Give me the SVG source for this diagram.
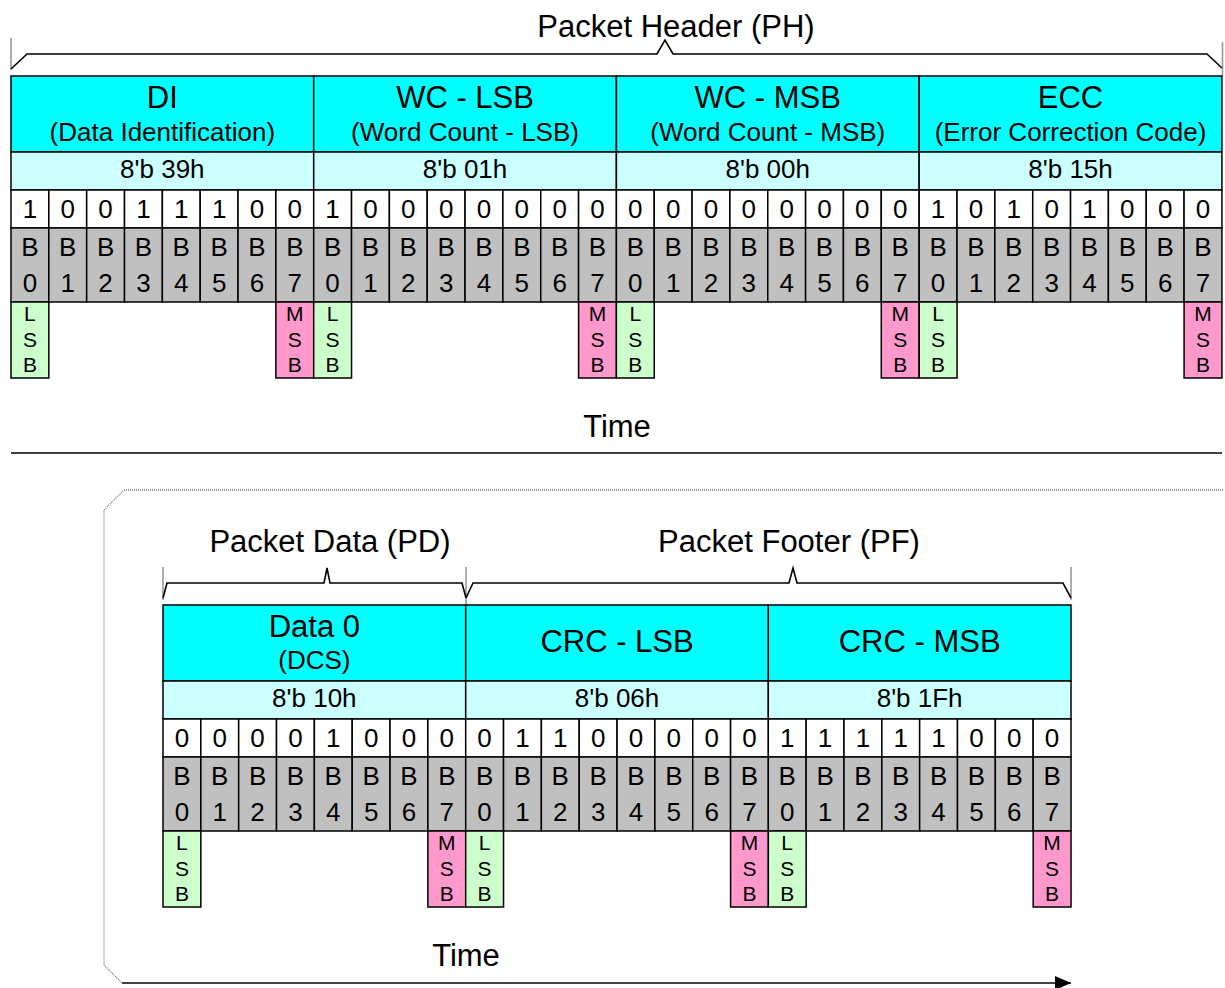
<svg xmlns="http://www.w3.org/2000/svg" width="1225" height="988" viewBox="0 0 1225 988">
<style>
rect{stroke:#000;stroke-width:1.5}
.hdr{fill:#00FFFF}
.hex{fill:#CCFFFF}
.bit{fill:#FFFFFF}
.bn{fill:#C0C0C0}
.lsb{fill:#CCFFCC}
.msb{fill:#FF99CC}
text{font-family:"Liberation Sans",Arial,sans-serif;text-anchor:middle;fill:#000}
.t31{font-size:31px}
.t26{font-size:26px}
.t19{font-size:21px}
.br{fill:none;stroke:#000;stroke-width:1.6}
.gv{fill:none;stroke:#999;stroke-width:1.6}
.dot{fill:none;stroke:#777;stroke-width:1.3;stroke-dasharray:1 1}
</style>
<defs>
<marker id="ah" viewBox="0 0 16 14" refX="16" refY="7" markerWidth="16" markerHeight="14" markerUnits="userSpaceOnUse" orient="auto">
<path d="M0,0 L16,7 L0,14 Z" fill="#000"/>
</marker>
</defs>

<g id="labels">
<text class="t31" x="676" y="37">Packet Header (PH)</text>
<text class="t31" x="617" y="437">Time</text>
<text class="t31" x="330" y="552">Packet Data (PD)</text>
<text class="t31" x="789" y="552">Packet Footer (PF)</text>
<text class="t31" x="466" y="966">Time</text>
</g>

<g id="connectors">
<line class="gv" x1="11" y1="38" x2="11" y2="70"/>
<line class="gv" x1="1222.5" y1="42" x2="1222.5" y2="76"/>
<path class="br" d="M11,69 L27,54 L657,54 L665,40 L673,54 L1207,54 L1222,68"/>
<line x1="11" y1="453" x2="1222" y2="453" stroke="#000" stroke-width="1.6"/>
<path class="dot" d="M1223,490 L124,490 L104,510 L104,965 L122,983"/>
<line x1="122" y1="983" x2="1071" y2="983" stroke="#000" stroke-width="1.6" marker-end="url(#ah)"/>
<line class="gv" x1="163" y1="567" x2="163" y2="600"/>
<line class="gv" x1="466" y1="567" x2="466" y2="605"/>
<line class="gv" x1="1071" y1="567" x2="1071" y2="600"/>
<path class="br" d="M163,598 L167,583 L324,583 L327,568 L330,583 L462,583 L466,598"/>
<path class="br" d="M466,598 L473,583 L789,583 L793,568 L797,583 L1063,583 L1071,598"/>
</g>

<g id="byte-di" transform="translate(11,76)">
<rect class="hdr" width="302.7" height="76"/>
<text class="t31" x="151.35" y="32">DI</text>
<text class="t26" x="151.35" y="65">(Data Identification)</text>
<rect class="hex" y="76" width="302.7" height="38"/>
<text class="t26" x="151.35" y="102">8'b 39h</text>
<rect class="bit" x="0" y="114" width="37.84" height="38"/><rect class="bit" x="37.84" y="114" width="37.84" height="38"/><rect class="bit" x="75.68" y="114" width="37.84" height="38"/><rect class="bit" x="113.52" y="114" width="37.84" height="38"/><rect class="bit" x="151.36" y="114" width="37.84" height="38"/><rect class="bit" x="189.2" y="114" width="37.84" height="38"/><rect class="bit" x="227.04" y="114" width="37.84" height="38"/><rect class="bit" x="264.88" y="114" width="37.84" height="38"/>
<text class="t26" x="18.92" y="142">1</text><text class="t26" x="56.76" y="142">0</text><text class="t26" x="94.6" y="142">0</text><text class="t26" x="132.44" y="142">1</text><text class="t26" x="170.28" y="142">1</text><text class="t26" x="208.12" y="142">1</text><text class="t26" x="245.96" y="142">0</text><text class="t26" x="283.8" y="142">0</text>
<rect class="bn" x="0" y="152" width="37.84" height="74"/><rect class="bn" x="37.84" y="152" width="37.84" height="74"/><rect class="bn" x="75.68" y="152" width="37.84" height="74"/><rect class="bn" x="113.52" y="152" width="37.84" height="74"/><rect class="bn" x="151.36" y="152" width="37.84" height="74"/><rect class="bn" x="189.2" y="152" width="37.84" height="74"/><rect class="bn" x="227.04" y="152" width="37.84" height="74"/><rect class="bn" x="264.88" y="152" width="37.84" height="74"/>
<text class="t26" x="18.92" y="180">B</text><text class="t26" x="56.76" y="180">B</text><text class="t26" x="94.6" y="180">B</text><text class="t26" x="132.44" y="180">B</text><text class="t26" x="170.28" y="180">B</text><text class="t26" x="208.12" y="180">B</text><text class="t26" x="245.96" y="180">B</text><text class="t26" x="283.8" y="180">B</text>
<text class="t26" x="18.92" y="216">0</text><text class="t26" x="56.76" y="216">1</text><text class="t26" x="94.6" y="216">2</text><text class="t26" x="132.44" y="216">3</text><text class="t26" x="170.28" y="216">4</text><text class="t26" x="208.12" y="216">5</text><text class="t26" x="245.96" y="216">6</text><text class="t26" x="283.8" y="216">7</text>
<rect class="lsb" x="0" y="226" width="37.84" height="76"/>
<text class="t19" x="18.92" y="245">L</text><text class="t19" x="18.92" y="271">S</text><text class="t19" x="18.92" y="296">B</text>
<rect class="msb" x="264.88" y="226" width="37.84" height="76"/>
<text class="t19" x="283.8" y="245">M</text><text class="t19" x="283.8" y="271">S</text><text class="t19" x="283.8" y="296">B</text>
</g>

<g id="byte-wc-lsb" transform="translate(313.7,76)">
<rect class="hdr" width="302.7" height="76"/>
<text class="t31" x="151.35" y="32">WC - LSB</text>
<text class="t26" x="151.35" y="65">(Word Count - LSB)</text>
<rect class="hex" y="76" width="302.7" height="38"/>
<text class="t26" x="151.35" y="102">8'b 01h</text>
<rect class="bit" x="0" y="114" width="37.84" height="38"/><rect class="bit" x="37.84" y="114" width="37.84" height="38"/><rect class="bit" x="75.68" y="114" width="37.84" height="38"/><rect class="bit" x="113.52" y="114" width="37.84" height="38"/><rect class="bit" x="151.36" y="114" width="37.84" height="38"/><rect class="bit" x="189.2" y="114" width="37.84" height="38"/><rect class="bit" x="227.04" y="114" width="37.84" height="38"/><rect class="bit" x="264.88" y="114" width="37.84" height="38"/>
<text class="t26" x="18.92" y="142">1</text><text class="t26" x="56.76" y="142">0</text><text class="t26" x="94.6" y="142">0</text><text class="t26" x="132.44" y="142">0</text><text class="t26" x="170.28" y="142">0</text><text class="t26" x="208.12" y="142">0</text><text class="t26" x="245.96" y="142">0</text><text class="t26" x="283.8" y="142">0</text>
<rect class="bn" x="0" y="152" width="37.84" height="74"/><rect class="bn" x="37.84" y="152" width="37.84" height="74"/><rect class="bn" x="75.68" y="152" width="37.84" height="74"/><rect class="bn" x="113.52" y="152" width="37.84" height="74"/><rect class="bn" x="151.36" y="152" width="37.84" height="74"/><rect class="bn" x="189.2" y="152" width="37.84" height="74"/><rect class="bn" x="227.04" y="152" width="37.84" height="74"/><rect class="bn" x="264.88" y="152" width="37.84" height="74"/>
<text class="t26" x="18.92" y="180">B</text><text class="t26" x="56.76" y="180">B</text><text class="t26" x="94.6" y="180">B</text><text class="t26" x="132.44" y="180">B</text><text class="t26" x="170.28" y="180">B</text><text class="t26" x="208.12" y="180">B</text><text class="t26" x="245.96" y="180">B</text><text class="t26" x="283.8" y="180">B</text>
<text class="t26" x="18.92" y="216">0</text><text class="t26" x="56.76" y="216">1</text><text class="t26" x="94.6" y="216">2</text><text class="t26" x="132.44" y="216">3</text><text class="t26" x="170.28" y="216">4</text><text class="t26" x="208.12" y="216">5</text><text class="t26" x="245.96" y="216">6</text><text class="t26" x="283.8" y="216">7</text>
<rect class="lsb" x="0" y="226" width="37.84" height="76"/>
<text class="t19" x="18.92" y="245">L</text><text class="t19" x="18.92" y="271">S</text><text class="t19" x="18.92" y="296">B</text>
<rect class="msb" x="264.88" y="226" width="37.84" height="76"/>
<text class="t19" x="283.8" y="245">M</text><text class="t19" x="283.8" y="271">S</text><text class="t19" x="283.8" y="296">B</text>
</g>

<g id="byte-wc-msb" transform="translate(616.4,76)">
<rect class="hdr" width="302.7" height="76"/>
<text class="t31" x="151.35" y="32">WC - MSB</text>
<text class="t26" x="151.35" y="65">(Word Count - MSB)</text>
<rect class="hex" y="76" width="302.7" height="38"/>
<text class="t26" x="151.35" y="102">8'b 00h</text>
<rect class="bit" x="0" y="114" width="37.84" height="38"/><rect class="bit" x="37.84" y="114" width="37.84" height="38"/><rect class="bit" x="75.68" y="114" width="37.84" height="38"/><rect class="bit" x="113.52" y="114" width="37.84" height="38"/><rect class="bit" x="151.36" y="114" width="37.84" height="38"/><rect class="bit" x="189.2" y="114" width="37.84" height="38"/><rect class="bit" x="227.04" y="114" width="37.84" height="38"/><rect class="bit" x="264.88" y="114" width="37.84" height="38"/>
<text class="t26" x="18.92" y="142">0</text><text class="t26" x="56.76" y="142">0</text><text class="t26" x="94.6" y="142">0</text><text class="t26" x="132.44" y="142">0</text><text class="t26" x="170.28" y="142">0</text><text class="t26" x="208.12" y="142">0</text><text class="t26" x="245.96" y="142">0</text><text class="t26" x="283.8" y="142">0</text>
<rect class="bn" x="0" y="152" width="37.84" height="74"/><rect class="bn" x="37.84" y="152" width="37.84" height="74"/><rect class="bn" x="75.68" y="152" width="37.84" height="74"/><rect class="bn" x="113.52" y="152" width="37.84" height="74"/><rect class="bn" x="151.36" y="152" width="37.84" height="74"/><rect class="bn" x="189.2" y="152" width="37.84" height="74"/><rect class="bn" x="227.04" y="152" width="37.84" height="74"/><rect class="bn" x="264.88" y="152" width="37.84" height="74"/>
<text class="t26" x="18.92" y="180">B</text><text class="t26" x="56.76" y="180">B</text><text class="t26" x="94.6" y="180">B</text><text class="t26" x="132.44" y="180">B</text><text class="t26" x="170.28" y="180">B</text><text class="t26" x="208.12" y="180">B</text><text class="t26" x="245.96" y="180">B</text><text class="t26" x="283.8" y="180">B</text>
<text class="t26" x="18.92" y="216">0</text><text class="t26" x="56.76" y="216">1</text><text class="t26" x="94.6" y="216">2</text><text class="t26" x="132.44" y="216">3</text><text class="t26" x="170.28" y="216">4</text><text class="t26" x="208.12" y="216">5</text><text class="t26" x="245.96" y="216">6</text><text class="t26" x="283.8" y="216">7</text>
<rect class="lsb" x="0" y="226" width="37.84" height="76"/>
<text class="t19" x="18.92" y="245">L</text><text class="t19" x="18.92" y="271">S</text><text class="t19" x="18.92" y="296">B</text>
<rect class="msb" x="264.88" y="226" width="37.84" height="76"/>
<text class="t19" x="283.8" y="245">M</text><text class="t19" x="283.8" y="271">S</text><text class="t19" x="283.8" y="296">B</text>
</g>

<g id="byte-ecc" transform="translate(919.2,76)">
<rect class="hdr" width="302.7" height="76"/>
<text class="t31" x="151.35" y="32">ECC</text>
<text class="t26" x="151.35" y="65">(Error Correction Code)</text>
<rect class="hex" y="76" width="302.7" height="38"/>
<text class="t26" x="151.35" y="102">8'b 15h</text>
<rect class="bit" x="0" y="114" width="37.84" height="38"/><rect class="bit" x="37.84" y="114" width="37.84" height="38"/><rect class="bit" x="75.68" y="114" width="37.84" height="38"/><rect class="bit" x="113.52" y="114" width="37.84" height="38"/><rect class="bit" x="151.36" y="114" width="37.84" height="38"/><rect class="bit" x="189.2" y="114" width="37.84" height="38"/><rect class="bit" x="227.04" y="114" width="37.84" height="38"/><rect class="bit" x="264.88" y="114" width="37.84" height="38"/>
<text class="t26" x="18.92" y="142">1</text><text class="t26" x="56.76" y="142">0</text><text class="t26" x="94.6" y="142">1</text><text class="t26" x="132.44" y="142">0</text><text class="t26" x="170.28" y="142">1</text><text class="t26" x="208.12" y="142">0</text><text class="t26" x="245.96" y="142">0</text><text class="t26" x="283.8" y="142">0</text>
<rect class="bn" x="0" y="152" width="37.84" height="74"/><rect class="bn" x="37.84" y="152" width="37.84" height="74"/><rect class="bn" x="75.68" y="152" width="37.84" height="74"/><rect class="bn" x="113.52" y="152" width="37.84" height="74"/><rect class="bn" x="151.36" y="152" width="37.84" height="74"/><rect class="bn" x="189.2" y="152" width="37.84" height="74"/><rect class="bn" x="227.04" y="152" width="37.84" height="74"/><rect class="bn" x="264.88" y="152" width="37.84" height="74"/>
<text class="t26" x="18.92" y="180">B</text><text class="t26" x="56.76" y="180">B</text><text class="t26" x="94.6" y="180">B</text><text class="t26" x="132.44" y="180">B</text><text class="t26" x="170.28" y="180">B</text><text class="t26" x="208.12" y="180">B</text><text class="t26" x="245.96" y="180">B</text><text class="t26" x="283.8" y="180">B</text>
<text class="t26" x="18.92" y="216">0</text><text class="t26" x="56.76" y="216">1</text><text class="t26" x="94.6" y="216">2</text><text class="t26" x="132.44" y="216">3</text><text class="t26" x="170.28" y="216">4</text><text class="t26" x="208.12" y="216">5</text><text class="t26" x="245.96" y="216">6</text><text class="t26" x="283.8" y="216">7</text>
<rect class="lsb" x="0" y="226" width="37.84" height="76"/>
<text class="t19" x="18.92" y="245">L</text><text class="t19" x="18.92" y="271">S</text><text class="t19" x="18.92" y="296">B</text>
<rect class="msb" x="264.88" y="226" width="37.84" height="76"/>
<text class="t19" x="283.8" y="245">M</text><text class="t19" x="283.8" y="271">S</text><text class="t19" x="283.8" y="296">B</text>
</g>

<g id="byte-data0" transform="translate(163,605)">
<rect class="hdr" width="302.7" height="76"/>
<text class="t31" x="151.35" y="32">Data 0</text>
<text class="t26" x="151.35" y="64">(DCS)</text>
<rect class="hex" y="76" width="302.7" height="38"/>
<text class="t26" x="151.35" y="102">8'b 10h</text>
<rect class="bit" x="0" y="114" width="37.84" height="38"/><rect class="bit" x="37.84" y="114" width="37.84" height="38"/><rect class="bit" x="75.68" y="114" width="37.84" height="38"/><rect class="bit" x="113.52" y="114" width="37.84" height="38"/><rect class="bit" x="151.36" y="114" width="37.84" height="38"/><rect class="bit" x="189.2" y="114" width="37.84" height="38"/><rect class="bit" x="227.04" y="114" width="37.84" height="38"/><rect class="bit" x="264.88" y="114" width="37.84" height="38"/>
<text class="t26" x="18.92" y="142">0</text><text class="t26" x="56.76" y="142">0</text><text class="t26" x="94.6" y="142">0</text><text class="t26" x="132.44" y="142">0</text><text class="t26" x="170.28" y="142">1</text><text class="t26" x="208.12" y="142">0</text><text class="t26" x="245.96" y="142">0</text><text class="t26" x="283.8" y="142">0</text>
<rect class="bn" x="0" y="152" width="37.84" height="74"/><rect class="bn" x="37.84" y="152" width="37.84" height="74"/><rect class="bn" x="75.68" y="152" width="37.84" height="74"/><rect class="bn" x="113.52" y="152" width="37.84" height="74"/><rect class="bn" x="151.36" y="152" width="37.84" height="74"/><rect class="bn" x="189.2" y="152" width="37.84" height="74"/><rect class="bn" x="227.04" y="152" width="37.84" height="74"/><rect class="bn" x="264.88" y="152" width="37.84" height="74"/>
<text class="t26" x="18.92" y="180">B</text><text class="t26" x="56.76" y="180">B</text><text class="t26" x="94.6" y="180">B</text><text class="t26" x="132.44" y="180">B</text><text class="t26" x="170.28" y="180">B</text><text class="t26" x="208.12" y="180">B</text><text class="t26" x="245.96" y="180">B</text><text class="t26" x="283.8" y="180">B</text>
<text class="t26" x="18.92" y="216">0</text><text class="t26" x="56.76" y="216">1</text><text class="t26" x="94.6" y="216">2</text><text class="t26" x="132.44" y="216">3</text><text class="t26" x="170.28" y="216">4</text><text class="t26" x="208.12" y="216">5</text><text class="t26" x="245.96" y="216">6</text><text class="t26" x="283.8" y="216">7</text>
<rect class="lsb" x="0" y="226" width="37.84" height="76"/>
<text class="t19" x="18.92" y="245">L</text><text class="t19" x="18.92" y="271">S</text><text class="t19" x="18.92" y="296">B</text>
<rect class="msb" x="264.88" y="226" width="37.84" height="76"/>
<text class="t19" x="283.8" y="245">M</text><text class="t19" x="283.8" y="271">S</text><text class="t19" x="283.8" y="296">B</text>
</g>

<g id="byte-crc-lsb" transform="translate(465.7,605)">
<rect class="hdr" width="302.7" height="76"/>
<text class="t31" x="151.35" y="47">CRC - LSB</text>
<rect class="hex" y="76" width="302.7" height="38"/>
<text class="t26" x="151.35" y="102">8'b 06h</text>
<rect class="bit" x="0" y="114" width="37.84" height="38"/><rect class="bit" x="37.84" y="114" width="37.84" height="38"/><rect class="bit" x="75.68" y="114" width="37.84" height="38"/><rect class="bit" x="113.52" y="114" width="37.84" height="38"/><rect class="bit" x="151.36" y="114" width="37.84" height="38"/><rect class="bit" x="189.2" y="114" width="37.84" height="38"/><rect class="bit" x="227.04" y="114" width="37.84" height="38"/><rect class="bit" x="264.88" y="114" width="37.84" height="38"/>
<text class="t26" x="18.92" y="142">0</text><text class="t26" x="56.76" y="142">1</text><text class="t26" x="94.6" y="142">1</text><text class="t26" x="132.44" y="142">0</text><text class="t26" x="170.28" y="142">0</text><text class="t26" x="208.12" y="142">0</text><text class="t26" x="245.96" y="142">0</text><text class="t26" x="283.8" y="142">0</text>
<rect class="bn" x="0" y="152" width="37.84" height="74"/><rect class="bn" x="37.84" y="152" width="37.84" height="74"/><rect class="bn" x="75.68" y="152" width="37.84" height="74"/><rect class="bn" x="113.52" y="152" width="37.84" height="74"/><rect class="bn" x="151.36" y="152" width="37.84" height="74"/><rect class="bn" x="189.2" y="152" width="37.84" height="74"/><rect class="bn" x="227.04" y="152" width="37.84" height="74"/><rect class="bn" x="264.88" y="152" width="37.84" height="74"/>
<text class="t26" x="18.92" y="180">B</text><text class="t26" x="56.76" y="180">B</text><text class="t26" x="94.6" y="180">B</text><text class="t26" x="132.44" y="180">B</text><text class="t26" x="170.28" y="180">B</text><text class="t26" x="208.12" y="180">B</text><text class="t26" x="245.96" y="180">B</text><text class="t26" x="283.8" y="180">B</text>
<text class="t26" x="18.92" y="216">0</text><text class="t26" x="56.76" y="216">1</text><text class="t26" x="94.6" y="216">2</text><text class="t26" x="132.44" y="216">3</text><text class="t26" x="170.28" y="216">4</text><text class="t26" x="208.12" y="216">5</text><text class="t26" x="245.96" y="216">6</text><text class="t26" x="283.8" y="216">7</text>
<rect class="lsb" x="0" y="226" width="37.84" height="76"/>
<text class="t19" x="18.92" y="245">L</text><text class="t19" x="18.92" y="271">S</text><text class="t19" x="18.92" y="296">B</text>
<rect class="msb" x="264.88" y="226" width="37.84" height="76"/>
<text class="t19" x="283.8" y="245">M</text><text class="t19" x="283.8" y="271">S</text><text class="t19" x="283.8" y="296">B</text>
</g>

<g id="byte-crc-msb" transform="translate(768.3,605)">
<rect class="hdr" width="302.7" height="76"/>
<text class="t31" x="151.35" y="47">CRC - MSB</text>
<rect class="hex" y="76" width="302.7" height="38"/>
<text class="t26" x="151.35" y="102">8'b 1Fh</text>
<rect class="bit" x="0" y="114" width="37.84" height="38"/><rect class="bit" x="37.84" y="114" width="37.84" height="38"/><rect class="bit" x="75.68" y="114" width="37.84" height="38"/><rect class="bit" x="113.52" y="114" width="37.84" height="38"/><rect class="bit" x="151.36" y="114" width="37.84" height="38"/><rect class="bit" x="189.2" y="114" width="37.84" height="38"/><rect class="bit" x="227.04" y="114" width="37.84" height="38"/><rect class="bit" x="264.88" y="114" width="37.84" height="38"/>
<text class="t26" x="18.92" y="142">1</text><text class="t26" x="56.76" y="142">1</text><text class="t26" x="94.6" y="142">1</text><text class="t26" x="132.44" y="142">1</text><text class="t26" x="170.28" y="142">1</text><text class="t26" x="208.12" y="142">0</text><text class="t26" x="245.96" y="142">0</text><text class="t26" x="283.8" y="142">0</text>
<rect class="bn" x="0" y="152" width="37.84" height="74"/><rect class="bn" x="37.84" y="152" width="37.84" height="74"/><rect class="bn" x="75.68" y="152" width="37.84" height="74"/><rect class="bn" x="113.52" y="152" width="37.84" height="74"/><rect class="bn" x="151.36" y="152" width="37.84" height="74"/><rect class="bn" x="189.2" y="152" width="37.84" height="74"/><rect class="bn" x="227.04" y="152" width="37.84" height="74"/><rect class="bn" x="264.88" y="152" width="37.84" height="74"/>
<text class="t26" x="18.92" y="180">B</text><text class="t26" x="56.76" y="180">B</text><text class="t26" x="94.6" y="180">B</text><text class="t26" x="132.44" y="180">B</text><text class="t26" x="170.28" y="180">B</text><text class="t26" x="208.12" y="180">B</text><text class="t26" x="245.96" y="180">B</text><text class="t26" x="283.8" y="180">B</text>
<text class="t26" x="18.92" y="216">0</text><text class="t26" x="56.76" y="216">1</text><text class="t26" x="94.6" y="216">2</text><text class="t26" x="132.44" y="216">3</text><text class="t26" x="170.28" y="216">4</text><text class="t26" x="208.12" y="216">5</text><text class="t26" x="245.96" y="216">6</text><text class="t26" x="283.8" y="216">7</text>
<rect class="lsb" x="0" y="226" width="37.84" height="76"/>
<text class="t19" x="18.92" y="245">L</text><text class="t19" x="18.92" y="271">S</text><text class="t19" x="18.92" y="296">B</text>
<rect class="msb" x="264.88" y="226" width="37.84" height="76"/>
<text class="t19" x="283.8" y="245">M</text><text class="t19" x="283.8" y="271">S</text><text class="t19" x="283.8" y="296">B</text>
</g>
</svg>
